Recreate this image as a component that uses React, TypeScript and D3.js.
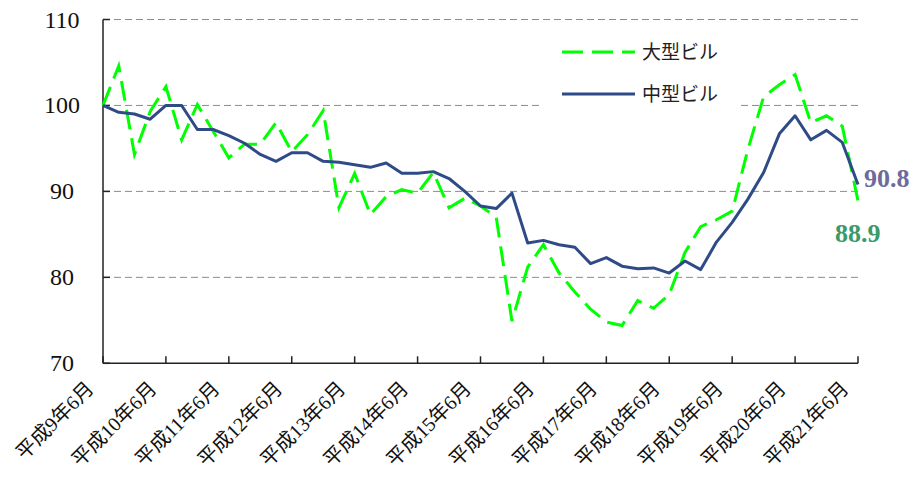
import React from "react";
import * as d3 from "d3";

// 四半期ごとの指数 (平成9年6月 = 100)
const largeBldg = [
  100, 104.6, 94.3, 99.3, 102.2, 96.0, 100.1, 97.0, 93.9, 95.5, 95.5, 98.0,
  94.6, 96.6, 99.4, 88.1, 92.1, 87.3, 89.4, 90.2, 89.8, 92.2, 88.1, 89.2,
  88.3, 87.0, 74.9, 81.2, 83.8, 80.5, 78.3, 76.3, 74.8, 74.4, 77.3, 76.4,
  78.0, 82.9, 85.9, 86.7, 87.7, 94.9, 101.0, 102.4, 103.6, 98.0, 98.8, 97.6,
  88.9,
];
const midBldg = [
  100, 99.2, 99.0, 98.4, 100.0, 100.0, 97.2, 97.2, 96.5, 95.6, 94.3, 93.5,
  94.5, 94.5, 93.5, 93.4, 93.1, 92.8, 93.3, 92.1, 92.1, 92.3, 91.5, 90.0,
  88.3, 88.0, 89.8, 84.0, 84.3, 83.8, 83.5, 81.6, 82.3, 81.3, 81.0, 81.1,
  80.5, 81.9, 80.9, 84.1, 86.4, 89.1, 92.2, 96.7, 98.8, 96.0, 97.1, 95.7,
  90.8,
];
const yearLabels = [
  "平成9年6月", "平成10年6月", "平成11年6月", "平成12年6月", "平成13年6月",
  "平成14年6月", "平成15年6月", "平成16年6月", "平成17年6月", "平成18年6月",
  "平成19年6月", "平成20年6月", "平成21年6月",
];
const yTicks = [70, 80, 90, 100, 110];
const seriesNames = ["大型ビル", "中型ビル"];
const endLabels = ["88.9", "90.8"];

const GREEN = "#00ff00";
const BLUE = "#2f4b87";
const FONT = "'Liberation Serif', 'Times New Roman', 'Noto Sans CJK JP', serif";

const App = () => {
  const width = 915;
  const height = 483;
  const left = 103, right = 858, top = 19.5, bottom = 363.3;

  const x = d3.scaleLinear().domain([0, largeBldg.length - 1]).range([left, right]);
  const y = d3.scaleLinear().domain([70, 110]).range([bottom, top]);
  const line = d3.line<number>().x((d, i) => x(i)).y(d => y(d));

  const last = largeBldg.length - 1;

  return (
    <svg width={width} height={height} style={{ position: "absolute", left: 0, top: 0, background: "#fff" }}>
      {/* grid */}
      {yTicks.filter(t => t > 70).map(t => (
        <line key={t} x1={left} x2={right} y1={y(t)} y2={y(t)}
          stroke="#8c8c8c" strokeWidth={1} strokeDasharray="7,4" />
      ))}

      {/* legend background covers grid */}
      <rect x={543} y={30} width={195} height={95} fill="#fff" />

      {/* axes */}
      <line x1={left} x2={left} y1={top} y2={bottom} stroke="#222" strokeWidth={1.5} />
      <line x1={left} x2={right} y1={bottom} y2={bottom} stroke="#222" strokeWidth={1.5} />
      {yTicks.map(t => (
        <g key={t}>
          <line x1={left} x2={left + 7} y1={y(t)} y2={y(t)} stroke="#222" strokeWidth={1.5} />
          <text x={62} y={y(t)} textAnchor="middle" dominantBaseline="central"
            fontFamily={FONT} fontSize={24} fill="#111">{t}</text>
        </g>
      ))}
      {yearLabels.map((lab, k) => {
        const tx = x(k * 4);
        return (
          <g key={lab}>
            <line x1={tx} x2={tx} y1={bottom} y2={bottom - 7} stroke="#222" strokeWidth={1.5} />
            <text transform={`translate(${tx - 13},385) rotate(-45)`} textAnchor="end"
              dominantBaseline="central" fontFamily={FONT} fontSize={20} fill="#111">{lab}</text>
          </g>
        );
      })}

      {/* series */}
      <path d={line(largeBldg) || ""} fill="none" stroke={GREEN} strokeWidth={3} strokeDasharray="20,9" />
      <path d={line(midBldg) || ""} fill="none" stroke={BLUE} strokeWidth={3} strokeLinejoin="round" />

      {/* end labels */}
      <text x={x(last) + 6} y={y(midBldg[last]) - 6} dominantBaseline="central" fontFamily={FONT}
        fontSize={26} fontWeight="bold" fill="#6b6b9c">{endLabels[1]}</text>
      <text x={835} y={233} dominantBaseline="central" fontFamily={FONT}
        fontSize={26} fontWeight="bold" fill="#3a9a6a">{endLabels[0]}</text>

      {/* legend */}
      <line x1={562} x2={635} y1={52} y2={52} stroke={GREEN} strokeWidth={3} strokeDasharray="21,9" />
      <text x={642} y={52} dominantBaseline="central" fontFamily={FONT} fontSize={19} fill="#222">{seriesNames[0]}</text>
      <line x1={562} x2={635} y1={94} y2={94} stroke={BLUE} strokeWidth={3} />
      <text x={642} y={94} dominantBaseline="central" fontFamily={FONT} fontSize={19} fill="#222">{seriesNames[1]}</text>
    </svg>
  );
};

export default App;
